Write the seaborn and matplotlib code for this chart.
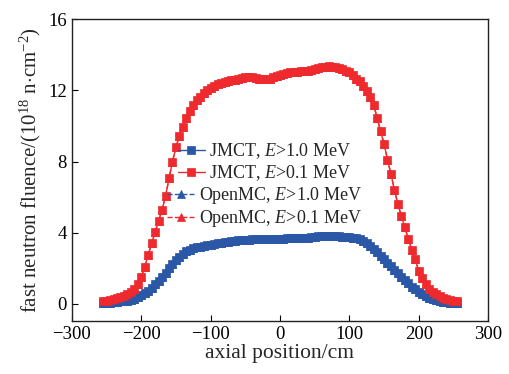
import numpy as np
import pandas as pd
import matplotlib
matplotlib.use('Agg')
import matplotlib.pyplot as plt
import seaborn as sns

# axial mesh: 5 cm bins from -255 cm to 255 cm
axial_pos = np.arange(-255, 256, 5)

# JMCT, E>1.0 MeV  (10^18 n/cm^2)
jmct_e10 = [0.04, 0.06, 0.08, 0.10, 0.12, 0.14, 0.16, 0.19, 0.24, 0.30,
            0.38, 0.48, 0.60, 0.75, 0.92, 1.10, 1.30, 1.52, 1.75, 2.00,
            2.23, 2.45, 2.65, 2.82, 2.95, 3.05, 3.12, 3.18, 3.22, 3.26,
            3.29, 3.32, 3.36, 3.40, 3.44, 3.47, 3.50, 3.53, 3.55, 3.57,
            3.59, 3.61, 3.62, 3.63, 3.64, 3.65, 3.65, 3.65, 3.64, 3.64,
            3.65, 3.66, 3.67, 3.68, 3.68, 3.68, 3.69, 3.70, 3.71, 3.73,
            3.75, 3.77, 3.79, 3.80, 3.82, 3.82, 3.82, 3.81, 3.80, 3.78,
            3.76, 3.74, 3.72, 3.69, 3.64, 3.55, 3.43, 3.28, 3.10, 2.92,
            2.72, 2.52, 2.32, 2.12, 1.92, 1.72, 1.53, 1.34, 1.16, 0.98,
            0.82, 0.68, 0.56, 0.46, 0.36, 0.28, 0.22, 0.17, 0.13, 0.10,
            0.07, 0.05, 0.04]

# JMCT, E>0.1 MeV
jmct_e01 = [0.14, 0.18, 0.23, 0.28, 0.33, 0.38, 0.45, 0.55, 0.68, 0.85,
            1.10, 1.50, 2.10, 2.75, 3.40, 4.05, 4.65, 5.30, 6.05, 7.05,
            8.00, 8.80, 9.45, 9.95, 10.45, 10.85, 11.20, 11.45, 11.65, 11.85,
            12.00, 12.15, 12.25, 12.35, 12.42, 12.48, 12.52, 12.56, 12.60, 12.65,
            12.70, 12.72, 12.74, 12.72, 12.68, 12.65, 12.62, 12.62, 12.66, 12.72,
            12.80, 12.88, 12.94, 12.98, 13.00, 13.02, 13.04, 13.06, 13.08, 13.10,
            13.13, 13.18, 13.24, 13.30, 13.33, 13.34, 13.33, 13.30, 13.25, 13.18,
            13.10, 13.00, 12.85, 12.65, 12.50, 12.25, 11.95, 11.60, 11.20, 10.45,
            9.70, 9.00, 8.10, 7.30, 6.40, 5.60, 4.95, 4.30, 3.65, 3.05,
            2.50, 1.85, 1.45, 1.10, 0.85, 0.68, 0.55, 0.44, 0.36, 0.28,
            0.22, 0.18, 0.14]

# OpenMC results coincide with JMCT at the resolution of the figure
openmc_e10 = list(jmct_e10)
openmc_e01 = list(jmct_e01)

blue = '#2a58a6'
red = '#ee2a2e'

sns.set_theme(style='ticks')
plt.rcParams['font.family'] = ['Liberation Serif', 'DejaVu Serif']
plt.rcParams['mathtext.fontset'] = 'custom'
plt.rcParams['mathtext.rm'] = 'Liberation Serif'
plt.rcParams['mathtext.it'] = 'Liberation Serif:italic'
plt.rcParams['axes.linewidth'] = 1.0

fig = plt.figure(figsize=(5.1, 3.74), dpi=100)
ax = fig.add_axes([0.141, 0.142, 0.816, 0.807])

series = [
    ('JMCT, $E$>1.0 MeV', jmct_e10, blue, 's', '-'),
    ('JMCT, $E$>0.1 MeV', jmct_e01, red, 's', '-'),
    ('OpenMC, $E$>1.0 MeV', openmc_e10, blue, '^', '--'),
    ('OpenMC, $E$>0.1 MeV', openmc_e01, red, '^', '--'),
]
for label, vals, col, mk, ls in series:
    sns.lineplot(x=axial_pos, y=vals, ax=ax, color=col, marker=mk, linestyle=ls,
                 lw=1.0, ms=5.8, mec=col, mew=0.5, label=label)

ax.set_xlim(-300, 300)
ax.set_ylim(-0.95, 16)
ax.set_xticks([-300, -200, -100, 0, 100, 200, 300])
ax.set_yticks([0, 4, 8, 12, 16])
ax.tick_params(direction='in', length=4, width=0.8, labelsize=13.5, colors='black',
               top=False, right=False)
for sp in ax.spines.values():
    sp.set_color('#222222')
    sp.set_visible(True)

ax.set_xlabel('axial position/cm', fontsize=15.5, labelpad=1)
ax.set_ylabel('fast neutron fluence/(10$^{18}$ n$\\cdot$cm$^{-2}$)', fontsize=15, labelpad=4)

leg = ax.legend(loc='center', bbox_to_anchor=(0.463, 0.45), frameon=False,
                fontsize=13, handlelength=1.5, handletextpad=0.25,
                labelspacing=0.12, borderpad=0.1)
for h in leg.legend_handles:
    h.set_markersize(5.5)
# centre the entries like the original figure
try:
    for col_box in leg._legend_handle_box.get_children():
        col_box.align = 'center'
except Exception:
    pass

fig.savefig('out.png', dpi=100)
